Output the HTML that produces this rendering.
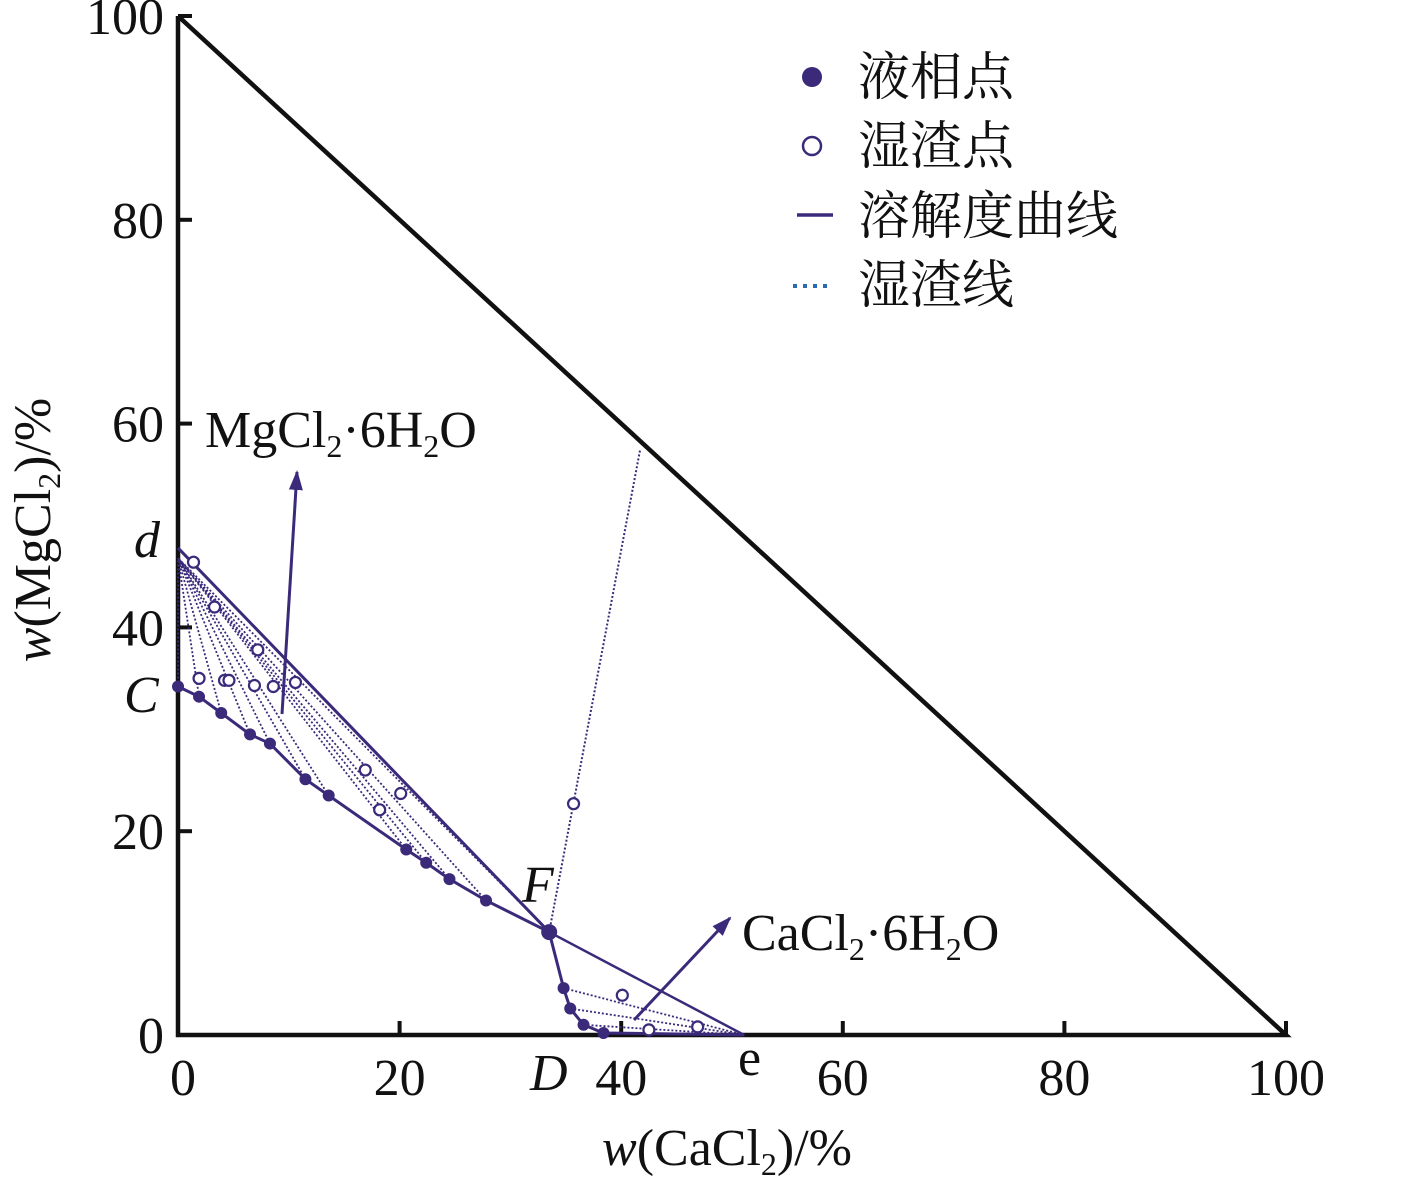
<!DOCTYPE html>
<html><head><meta charset="utf-8"><style>
html,body{margin:0;padding:0;background:#fff;}
svg{display:block;}
text{font-family:"Liberation Serif","Noto Serif CJK SC",serif;fill:#111;}
</style></head><body>
<svg id="chart" width="1417" height="1181" viewBox="0 0 1417 1181">
<defs><marker id="ah" markerWidth="10" markerHeight="10" refX="8" refY="5" orient="auto" markerUnits="userSpaceOnUse"><path d="M0,0 L10,5 L0,10 z" fill="#3b2a7a"/></marker>
<marker id="ah2" markerWidth="22" markerHeight="22" refX="18" refY="9" orient="auto" markerUnits="userSpaceOnUse"><path d="M0,2 L20,9 L0,16 z" fill="#3b2a7a"/></marker></defs>
<g id="axes"></g>
<g id="marks"></g>
<g id="labels"></g>
</svg>
<script>
const ticks=[0,20,40,60,80,100];
const liqX=[0,1.9,3.9,6.5,8.3,11.5,13.6,20.6,22.4,24.5,27.8,33.5,34.8,35.4,36.6,38.4];
const liqY=[34.2,33.2,31.6,29.5,28.6,25.1,23.5,18.2,16.9,15.3,13.2,10.1,4.6,2.6,1.0,0.2];
const wetX=[1.4,1.9,4.2,4.6,6.9,8.6,3.3,7.2,10.6,16.9,20.1,18.2,35.7,40.1,42.5,46.9];
const wetY=[46.4,35.0,34.8,34.8,34.3,34.2,42.0,37.8,34.6,26.0,23.7,22.1,22.7,3.9,0.5,0.8];
const dPt=[0,47.8], mgPt=[0,46.8], ePt=[51.1,0], caTop=[41.7,57.4];
const X=v=>178+v*11.08, Y=v=>1035-v*10.19;
const NS='http://www.w3.org/2000/svg';
function mk(tag,attrs,parent){const e=document.createElementNS(NS,tag);for(const k in attrs)e.setAttribute(k,attrs[k]);document.getElementById(parent).appendChild(e);return e;}
const C='#3b2a7a';
// axes & triangle
let a=mk('polyline',{points:`${X(0)},${Y(100)} ${X(0)},${Y(0)} ${X(100)},${Y(0)} ${X(0)},${Y(100)}`,fill:'none',stroke:'#111','stroke-width':4.5},'axes');

ticks.forEach(t=>{
 let l=mk('line',{x1:X(0),x2:X(0)+14,y1:Y(t),y2:Y(t),stroke:'#111','stroke-width':4},'axes');
 
 let l2=mk('line',{x1:X(t),x2:X(t),y1:Y(0),y2:Y(0)-14,stroke:'#111','stroke-width':4},'axes');
 
 let ty=mk('text',{x:X(0)-14,y:Y(t)+18,'text-anchor':'end','font-size':52},'labels');ty.textContent=t;
 
 let tx=mk('text',{x:X(t)+(t==0?5:0),y:1095,'text-anchor':'middle','font-size':52},'labels');tx.textContent=t;
 
});
// tie lines (dotted)
for(let i=0;i<=11;i++){
 let l=mk('line',{x1:X(liqX[i]),y1:Y(liqY[i]),x2:X(mgPt[0]),y2:Y(mgPt[1]),stroke:C,'stroke-width':1.8,'stroke-dasharray':'2,2'},'marks');
 
}
for(let i=12;i<liqX.length;i++){
 let l=mk('line',{x1:X(liqX[i]),y1:Y(liqY[i]),x2:X(ePt[0]),y2:Y(ePt[1]),stroke:C,'stroke-width':1.8,'stroke-dasharray':'2,2'},'marks');
 
}
let fl=mk('line',{x1:X(liqX[11]),y1:Y(liqY[11]),x2:X(caTop[0]),y2:Y(caTop[1]),stroke:C,'stroke-width':2,'stroke-dasharray':'2,2'},'marks');

// solubility curve
let pts=liqX.map((x,i)=>X(x)+','+Y(liqY[i])).join(' ')+` ${X(ePt[0])},${Y(ePt[1])}`;
let sc=mk('polyline',{points:pts,fill:'none',stroke:C,'stroke-width':3},'marks');

let s1=mk('line',{x1:X(dPt[0]),y1:Y(dPt[1]),x2:X(liqX[11]),y2:Y(liqY[11]),stroke:C,'stroke-width':3},'marks');

let s2=mk('line',{x1:X(liqX[11]),y1:Y(liqY[11]),x2:X(ePt[0]),y2:Y(ePt[1]),stroke:C,'stroke-width':2.5},'marks');

liqX.forEach((x,i)=>{let c=mk('circle',{cx:X(x),cy:Y(liqY[i]),r:i==11?8:6,fill:C},'marks');
 });
wetX.forEach((x,i)=>{let c=mk('circle',{cx:X(x),cy:Y(wetY[i]),r:5.5,fill:'#fff',stroke:C,'stroke-width':2.2},'marks');
 });
// arrows
let a1=mk('line',{x1:282,y1:714,x2:297,y2:472,stroke:C,'stroke-width':3,'marker-end':'url(#ah2)'},'marks');

let a2=mk('line',{x1:634,y1:1020,x2:730,y2:918,stroke:C,'stroke-width':3,'marker-end':'url(#ah2)'},'marks');

</script>
<svg width="1417" height="1181" style="position:absolute;left:0;top:0">
<text x="205" y="447" font-size="52">MgCl<tspan font-size="32" dy="10">2</tspan><tspan dy="-10">·6H</tspan><tspan font-size="32" dy="10">2</tspan><tspan dy="-10">O</tspan></text>
<text x="742" y="950" font-size="52">CaCl<tspan font-size="32" dy="10">2</tspan><tspan dy="-10">·6H</tspan><tspan font-size="32" dy="10">2</tspan><tspan dy="-10">O</tspan></text>
<text x="134" y="557" font-size="52" font-style="italic">d</text>
<text x="124" y="712" font-size="52" font-style="italic">C</text>
<text x="522" y="902" font-size="52" font-style="italic">F</text>
<text x="530" y="1090" font-size="52" font-style="italic">D</text>
<text x="738" y="1075" font-size="52">e</text>
<text x="727" y="1165" font-size="52" text-anchor="middle"><tspan font-style="italic">w</tspan>(CaCl<tspan font-size="32" dy="10">2</tspan><tspan dy="-10">)/%</tspan></text>
<text transform="translate(50,530) rotate(-90)" font-size="52" text-anchor="middle"><tspan font-style="italic">w</tspan>(MgCl<tspan font-size="32" dy="10">2</tspan><tspan dy="-10">)/%</tspan></text>
<g>
<circle cx="812" cy="77" r="10" fill="#3b2a7a"/>
<text x="858" y="95" font-size="52">液相点</text>
<circle cx="812" cy="146" r="9" fill="#fff" stroke="#3b2a7a" stroke-width="2.5"/>
<text x="858" y="164" font-size="52">湿渣点</text>
<line x1="797" y1="215" x2="833" y2="215" stroke="#3b2a7a" stroke-width="3.5"/>
<text x="858" y="234" font-size="52">溶解度曲线</text>
<line x1="793" y1="286" x2="833" y2="286" stroke="#2a6ab0" stroke-width="4" stroke-dasharray="4,6"/>
<text x="858" y="303" font-size="52">湿渣线</text>
</g>
</svg>
</body></html>
